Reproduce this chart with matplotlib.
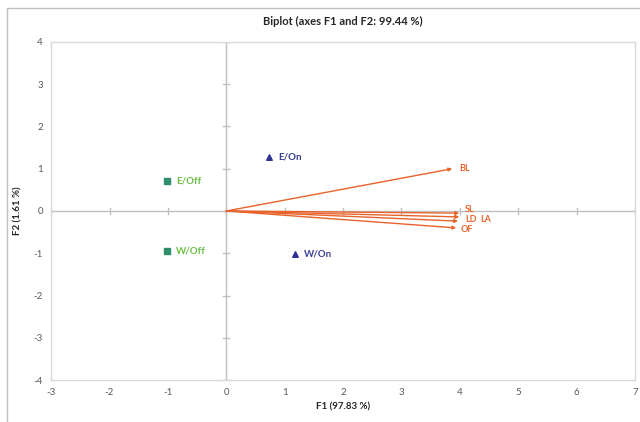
import matplotlib
matplotlib.use("Agg")
import matplotlib.pyplot as plt
from matplotlib.patches import Rectangle

plt.rcParams['font.family'] = ['Lato', 'DejaVu Sans']
plt.rcParams['axes.unicode_minus'] = False

# observations
obs_on = ['E/On', 'W/On']
obs_on_x = [0.74, 1.18]
obs_on_y = [1.28, -1.02]
obs_off = ['E/Off', 'W/Off']
obs_off_x = [-1.01, -1.01]
obs_off_y = [0.71, -0.95]

# variables (arrows)
var_names = ['BL', 'SL', 'LD', 'LA', 'OF']
var_x = [3.87, 3.99, 3.99, 3.97, 3.94]
var_y = [1.00, -0.05, -0.14, -0.24, -0.40]

xticks = list(range(-3, 8))
yticks = list(range(-4, 5))

fig = plt.figure(figsize=(6.4, 4.22), dpi=100)
ax = fig.add_axes([0.080, 0.0995, 0.912, 0.801])

# outer chart border
fig.patches.append(Rectangle((7 / 640, -0.1), 1.2, 1 - 8 / 422 + 0.1,
                             transform=fig.transFigure, fill=False,
                             edgecolor='#BFBFBF', linewidth=1.0))

ax.set_xlim(-3, 7)
ax.set_ylim(-4, 4)
ax.set_xticks(xticks)
ax.set_yticks(yticks)
for s in ax.spines.values():
    s.set_color('#D9D9D9')
    s.set_linewidth(1.0)
ax.tick_params(length=0, labelsize=7, colors='#595959', pad=6)

# zero axes with small ticks
ax.axhline(0, color='#BFBFBF', lw=1.0, zorder=1)
ax.axvline(0, color='#BFBFBF', lw=1.0, zorder=1)
for t in xticks:
    ax.plot([t, t], [-0.06, 0.06], color='#BFBFBF', lw=1.0, zorder=1)
for t in yticks:
    ax.plot([-0.05, 0.05], [t, t], color='#BFBFBF', lw=1.0, zorder=1)

arrow_c = '#E8632B'
for name, x, y in zip(var_names, var_x, var_y):
    ax.annotate('', xy=(x, y), xytext=(0, 0),
                arrowprops=dict(arrowstyle='-|>', color=arrow_c, lw=1.0,
                                mutation_scale=5, shrinkA=0, shrinkB=0))
# label offsets (data units), spread a little so the stacked labels stay legible
lab_off = {'BL': (0.12, 0.0), 'SL': (0.10, 0.09), 'LD': (0.10, -0.05),
           'LA': (0.38, 0.05), 'OF': (0.08, -0.03)}
for name, x, y in zip(var_names, var_x, var_y):
    dx, dy = lab_off[name]
    ax.text(x + dx, y + dy, name, color=arrow_c, fontsize=6.5,
            fontweight='bold', va='center', ha='left')

ax.scatter(obs_on_x, obs_on_y, marker='^', s=16, color='#2E3192', zorder=3)
for name, x, y in zip(obs_on, obs_on_x, obs_on_y):
    ax.text(x + 0.15, y, name, color='#3A3F94', fontsize=7, fontweight='bold',
            va='center', ha='left')

ax.scatter(obs_off_x, obs_off_y, marker='s', s=16, color='#2F8F6A', zorder=3)
for name, x, y in zip(obs_off, obs_off_x, obs_off_y):
    ax.text(x + 0.15, y, name, color='#6DBE45', fontsize=7, fontweight='bold',
            va='center', ha='left')

ax.set_title('Biplot (axes F1 and F2: 99.44 %)', fontsize=8, fontweight='bold',
             color='#262626', pad=12)
ax.set_xlabel('F1 (97.83 %)', fontsize=7, fontweight='bold', color='#262626',
              labelpad=4)
ax.set_ylabel('F2 (1.61 %)', fontsize=7, fontweight='bold', color='#262626',
              labelpad=8)

fig.savefig('out.png', dpi=100)
